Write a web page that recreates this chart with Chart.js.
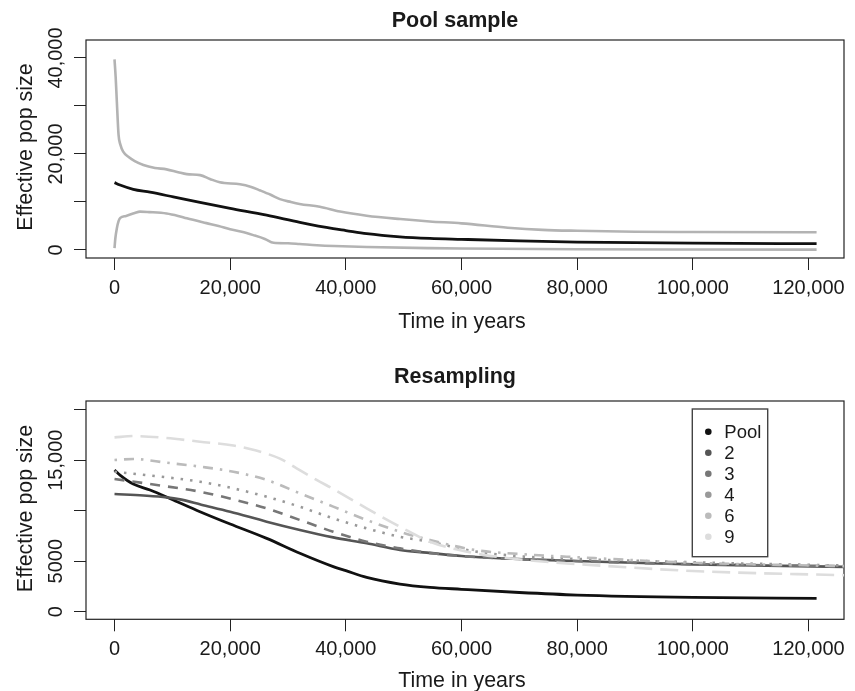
<!DOCTYPE html>
<html>
<head>
<meta charset="utf-8">
<script src="https://cdn.jsdelivr.net/npm/chart.js@4.4.1/dist/chart.umd.min.js"></script>
<style>
  html, body { margin: 0; padding: 0; background: #fff; }
  #wrap { position: relative; width: 855px; height: 691px; }
  #poolChart { position: absolute; left: 0; top: 0; }
  #resampChart { position: absolute; left: 0; top: 345px; }
</style>
</head>
<body>
<div id="wrap">
  <canvas id="poolChart" width="855" height="345"></canvas>
  <canvas id="resampChart" width="855" height="346"></canvas>
</div>
<script>
// ---- data ----
const xTickValues = [0, 20000, 40000, 60000, 80000, 100000, 120000];
const xTickLabels = ['0', '20,000', '40,000', '60,000', '80,000', '100,000', '120,000'];

const poolYTickValues = [0, 10000, 20000, 30000, 40000];
const poolYTickLabels = ['0', '', '20,000', '', '40,000'];
const resYTickValues = [0, 5000, 10000, 15000, 20000];
const resYTickLabels = ['0', '5000', '', '15,000', ''];

// pool sample: median and upper / lower bounds
const poolYears = [0, 950, 3250, 6140, 10160, 14780, 20000, 26310, 32050, 37820, 40000, 43600, 49350, 54540, 60000, 70000, 80000, 100000, 121400];
const poolNe = [14030, 13530, 12640, 12050, 11060, 9900, 8680, 7260, 5780, 4460, 4060, 3400, 2740, 2410, 2220, 1900, 1650, 1420, 1320];

const upperYears = [0, 200, 400, 700, 1000, 1500, 2500, 3500, 5000, 7000, 9000, 11000, 12500, 14800, 16500, 18200, 21700, 23500, 25200, 27000, 28600, 30500, 32000, 35500, 39000, 43600, 49400, 54500, 60000, 68000, 74000, 80000, 90000, 100000, 121400];
const upperNe = [39700, 36000, 31000, 24000, 22000, 20500, 19300, 18500, 17700, 17100, 16800, 16200, 15800, 15600, 14800, 14100, 13700, 13200, 12400, 11500, 10600, 10000, 9600, 9000, 8000, 7150, 6450, 5950, 5550, 4650, 4200, 4000, 3800, 3750, 3700];

const lowerYears = [0, 150, 400, 700, 1000, 2000, 3500, 4400, 6000, 9000, 11000, 12500, 15900, 18000, 20000, 22000, 24000, 26000, 27500, 30000, 32000, 35000, 38000, 43600, 54500, 60000, 80000, 100000, 121400];
const lowerNe = [400, 2500, 4500, 6000, 6700, 7100, 7700, 8000, 7900, 7600, 7100, 6600, 5600, 5000, 4300, 3800, 3100, 2300, 1500, 1400, 1250, 1000, 830, 620, 380, 300, 150, 100, 80];

// resampling runs
const res2Years = [0, 5000, 9020, 11330, 15000, 20000, 26310, 32050, 37820, 43600, 49350, 54000, 60000, 70930, 80000, 100000, 127000];
const res2Ne = [11650, 11500, 11320, 11120, 10600, 9900, 8910, 8090, 7360, 6770, 6110, 5850, 5510, 5180, 5020, 4690, 4430];

const res3Years = [0, 6140, 14780, 20550, 26310, 32050, 37820, 43600, 49350, 54000, 60000, 70000, 80000, 100000, 127000];
const res3Ne = [13140, 12640, 11880, 11120, 10230, 9080, 7920, 6930, 6270, 5850, 5500, 5200, 5000, 4700, 4500];

const res4Years = [0, 9020, 14780, 20550, 26310, 32050, 37820, 43600, 49350, 54540, 62000, 70930, 80000, 100000, 127000];
const res4Ne = [13860, 13300, 12870, 12210, 11380, 10390, 9240, 8250, 7420, 6930, 6000, 5450, 5220, 4890, 4560];

const res6Years = [0, 3250, 9020, 14780, 20550, 26310, 32050, 37820, 43600, 49350, 54540, 62310, 70930, 80000, 100000, 127000];
const res6Ne = [15020, 15120, 14750, 14360, 13860, 13040, 11720, 10400, 9080, 7920, 7100, 6110, 5680, 5390, 4850, 4500];

const res9Years = [0, 3250, 9000, 14780, 20550, 24500, 28600, 31500, 34940, 37820, 43600, 49350, 54540, 62310, 70930, 80000, 100000, 127000];
const res9Ne = [17260, 17390, 17200, 16830, 16450, 15950, 15150, 14200, 13050, 12150, 10230, 8420, 6930, 5780, 5120, 4720, 4030, 3600];

const legendLabels = ['Pool', '2', '3', '4', '6', '9'];
const legendColors = ['#111111', '#555555', '#777777', '#999999', '#bbbbbb', '#dddddd'];

const FONT = '"Liberation Sans", Arial, Helvetica, sans-serif';

function pts(xs, ys) {
  return xs.map((x, i) => ({ x: x, y: ys[i] }));
}

// R-like frame, titles, rotated y labels and legend
const rPlot = {
  id: 'rPlot',
  beforeDatasetsDraw(chart, args, opts) {
    const ctx = chart.ctx, a = chart.chartArea;
    ctx.save();
    ctx.strokeStyle = '#222';
    ctx.lineWidth = 1.2;
    ctx.strokeRect(a.left, a.top, a.right - a.left, a.bottom - a.top);
    ctx.restore();
  },
  afterDraw(chart, args, opts) {
    const ctx = chart.ctx, ys = chart.scales.y;
    ctx.save();
    ctx.fillStyle = '#1a1a1a';
    ctx.textAlign = 'center';
    ctx.textBaseline = 'alphabetic';

    ctx.font = 'bold 21.5px ' + FONT;
    ctx.fillText(opts.title, 455, opts.titleBase);

    ctx.font = '21.4px ' + FONT;
    ctx.fillText(opts.xTitle, 462, opts.xTitleBase);

    ctx.save();
    ctx.translate(31.7, opts.yTitleMid);
    ctx.rotate(-Math.PI / 2);
    ctx.fillText(opts.yTitle, 0, 0);
    ctx.restore();

    ctx.font = '20px ' + FONT;
    opts.yTicks.forEach((v, i) => {
      const lab = opts.yLabels[i];
      if (!lab) return;
      ctx.save();
      ctx.translate(62, ys.getPixelForValue(v));
      ctx.rotate(-Math.PI / 2);
      ctx.fillText(lab, 0, 0);
      ctx.restore();
    });

    if (opts.legend) {
      const L = opts.legend;
      ctx.strokeStyle = '#444';
      ctx.lineWidth = 1.4;
      ctx.strokeRect(L.left, L.top, L.width, L.height);
      ctx.font = '18.5px ' + FONT;
      ctx.textAlign = 'left';
      legendLabels.forEach((lab, i) => {
        const cy = L.firstY + i * L.step;
        ctx.fillStyle = legendColors[i];
        ctx.beginPath();
        ctx.arc(L.dotX, cy, 3.3, 0, Math.PI * 2);
        ctx.fill();
        ctx.fillStyle = '#1a1a1a';
        ctx.fillText(lab, L.textX, cy + 6.5);
      });
    }
    ctx.restore();
  }
};

function makeChart(id, datasets, yMin, yMax, yTicks, plotTop, xAxisHeight, pluginOpts) {
  return new Chart(document.getElementById(id).getContext('2d'), {
    type: 'line',
    data: { datasets: datasets },
    options: {
      responsive: false,
      animation: false,
      layout: { padding: { top: plotTop, right: 11, left: 0, bottom: 0 } },
      elements: { point: { radius: 0 }, line: { cubicInterpolationMode: 'monotone' } },
      plugins: {
        legend: { display: false },
        tooltip: { enabled: false },
        rPlot: pluginOpts
      },
      scales: {
        x: {
          type: 'linear',
          min: -4930,
          max: 126140,
          afterBuildTicks: (s) => { s.ticks = xTickValues.map(v => ({ value: v })); },
          afterFit: (s) => { s.height = xAxisHeight; },
          grid: { drawOnChartArea: false, drawTicks: true, tickLength: 12, tickColor: '#222', tickWidth: 1 },
          border: { display: false },
          ticks: {
            autoSkip: false,
            maxRotation: 0,
            padding: 6,
            color: '#1a1a1a',
            font: { family: FONT, size: 20 },
            callback: (v) => xTickLabels[xTickValues.indexOf(v)]
          }
        },
        y: {
          type: 'linear',
          min: yMin,
          max: yMax,
          afterBuildTicks: (s) => { s.ticks = yTicks.map(v => ({ value: v })); },
          afterFit: (s) => { s.width = 86; },
          grid: { drawOnChartArea: false, drawTicks: true, tickLength: 12, tickColor: '#222', tickWidth: 1 },
          border: { display: false },
          ticks: { display: false }
        }
      }
    },
    plugins: [rPlot]
  });
}

const grey = '#b3b3b3';
makeChart('poolChart', [
  { label: 'upper', data: pts(upperYears, upperNe), borderColor: grey, borderWidth: 2.6 },
  { label: 'lower', data: pts(lowerYears, lowerNe), borderColor: grey, borderWidth: 2.6 },
  { label: 'Pool', data: pts(poolYears, poolNe), borderColor: '#111', borderWidth: 2.8 }
], -1667, 43750, poolYTickValues, 40, 87, {
  title: 'Pool sample', titleBase: 26.7,
  xTitle: 'Time in years', xTitleBase: 328,
  yTitle: 'Effective pop size', yTitleMid: 147,
  yTicks: poolYTickValues, yLabels: poolYTickLabels
});

makeChart('resampChart', [
  { label: '9', data: pts(res9Years, res9Ne), borderColor: legendColors[5], borderWidth: 2.6, borderDash: [18, 8] },
  { label: '6', data: pts(res6Years, res6Ne), borderColor: legendColors[4], borderWidth: 2.6, borderDash: [2.5, 7, 10, 7] },
  { label: '4', data: pts(res4Years, res4Ne), borderColor: legendColors[3], borderWidth: 2.6, borderDash: [2.5, 7] },
  { label: '3', data: pts(res3Years, res3Ne), borderColor: legendColors[2], borderWidth: 2.6, borderDash: [10, 8] },
  { label: '2', data: pts(res2Years, res2Ne), borderColor: legendColors[1], borderWidth: 2.6 },
  { label: 'Pool', data: pts(poolYears, poolNe), borderColor: legendColors[0], borderWidth: 2.8 }
], -752, 20861, resYTickValues, 56, 71.7, {
  title: 'Resampling', titleBase: 38.3,
  xTitle: 'Time in years', xTitleBase: 342.3,
  yTitle: 'Effective pop size', yTitleMid: 163.5,
  yTicks: resYTickValues, yLabels: resYTickLabels,
  legend: { left: 692.3, top: 64, width: 75.4, height: 147.7, firstY: 86.7, step: 21, dotX: 708.3, textX: 724.3 }
});
</script>
</body>
</html>
